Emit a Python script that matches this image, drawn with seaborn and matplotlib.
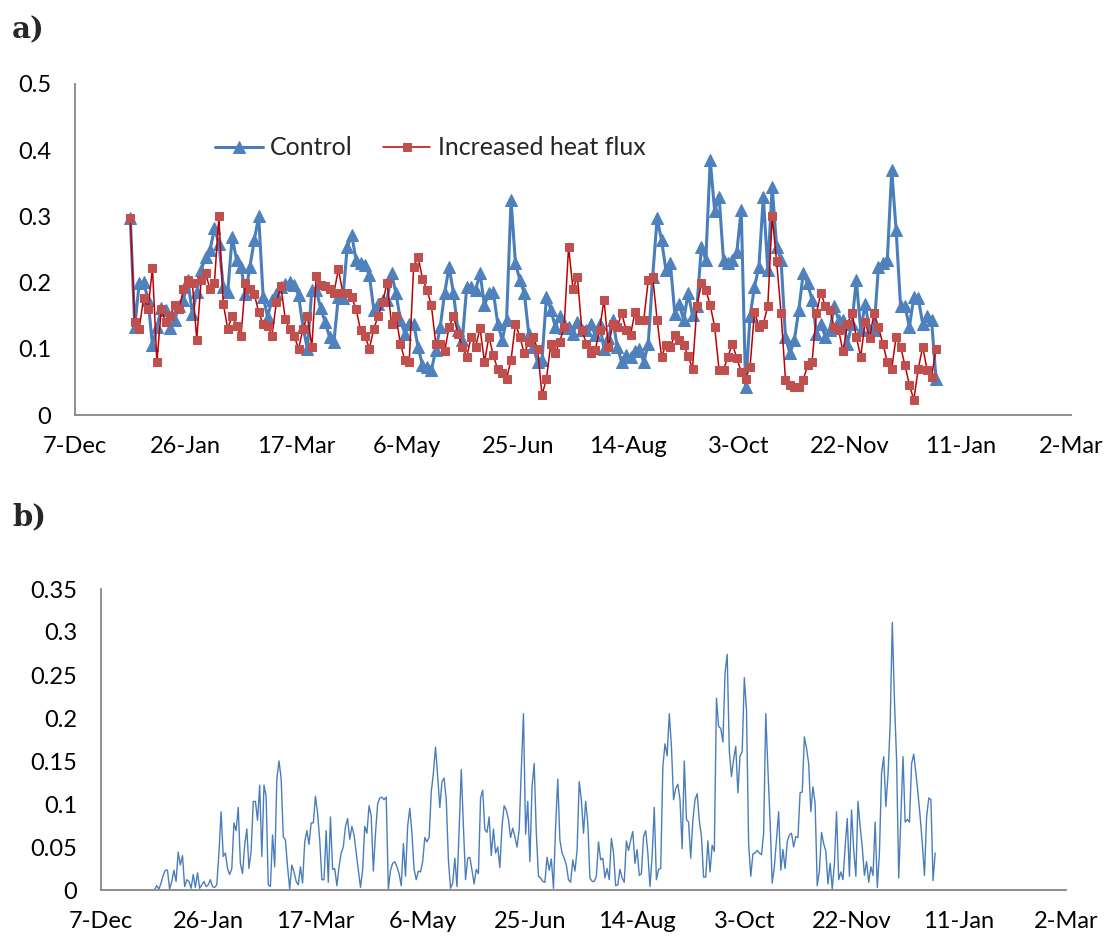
import numpy as np
import pandas as pd
import matplotlib
matplotlib.use("Agg")
import matplotlib.pyplot as plt
import matplotlib.dates as mdates
from matplotlib.ticker import FuncFormatter, MultipleLocator
import seaborn as sns

# ---------------- data ----------------
start_date = "2013-01-01"

# panel a: values every 2 days from 1 Jan 2013
control = [0.297, 0.133, 0.199, 0.201, 0.174, 0.105, 0.133, 0.161, 0.159, 0.131,
           0.144, 0.164, 0.174, 0.204, 0.153, 0.186, 0.219, 0.239, 0.249, 0.282,
           0.259, 0.194, 0.186, 0.269, 0.234, 0.224, 0.183, 0.224, 0.264, 0.300,
           0.179, 0.148, 0.174, 0.183, 0.194, 0.198, 0.201, 0.196, 0.181, 0.133,
           0.100, 0.189, 0.189, 0.161, 0.141, 0.118, 0.111, 0.179, 0.176, 0.254,
           0.272, 0.234, 0.229, 0.227, 0.211, 0.159, 0.168, 0.174, 0.174, 0.214,
           0.184, 0.144, 0.123, 0.138, 0.138, 0.103, 0.075, 0.073, 0.068, 0.098,
           0.133, 0.184, 0.224, 0.184, 0.128, 0.113, 0.194, 0.194, 0.189, 0.214,
           0.166, 0.184, 0.186, 0.138, 0.113, 0.144, 0.325, 0.229, 0.204, 0.184,
           0.123, 0.103, 0.080, 0.083, 0.179, 0.159, 0.133, 0.149, 0.131, 0.133,
           0.123, 0.141, 0.128, 0.128, 0.138, 0.121, 0.138, 0.100, 0.116, 0.144,
           0.103, 0.080, 0.090, 0.088, 0.096, 0.100, 0.080, 0.108, 0.209, 0.297,
           0.264, 0.219, 0.229, 0.153, 0.168, 0.143, 0.184, 0.151, 0.164, 0.254,
           0.234, 0.385, 0.308, 0.330, 0.234, 0.229, 0.234, 0.246, 0.310, 0.042,
           0.149, 0.194, 0.224, 0.330, 0.219, 0.345, 0.254, 0.234, 0.118, 0.093,
           0.113, 0.158, 0.214, 0.199, 0.174, 0.123, 0.138, 0.118, 0.128, 0.164,
           0.144, 0.144, 0.108, 0.138, 0.204, 0.128, 0.168, 0.128, 0.128, 0.224,
           0.229, 0.234, 0.370, 0.279, 0.164, 0.164, 0.133, 0.179, 0.176, 0.138,
           0.149, 0.143, 0.055]

heat_flux = [0.297, 0.140, 0.130, 0.177, 0.160, 0.222, 0.080, 0.160, 0.140, 0.150,
             0.166, 0.160, 0.190, 0.204, 0.200, 0.114, 0.204, 0.214, 0.190, 0.200,
             0.300, 0.168, 0.130, 0.150, 0.135, 0.120, 0.200, 0.190, 0.183, 0.155,
             0.137, 0.135, 0.120, 0.170, 0.195, 0.145, 0.130, 0.120, 0.100, 0.130,
             0.150, 0.103, 0.210, 0.196, 0.195, 0.190, 0.185, 0.220, 0.185, 0.185,
             0.178, 0.160, 0.128, 0.120, 0.100, 0.130, 0.150, 0.170, 0.200, 0.138,
             0.149, 0.108, 0.083, 0.080, 0.224, 0.239, 0.206, 0.189, 0.166, 0.108,
             0.108, 0.096, 0.133, 0.149, 0.123, 0.103, 0.088, 0.118, 0.103, 0.131,
             0.080, 0.118, 0.090, 0.069, 0.063, 0.055, 0.083, 0.138, 0.118, 0.093,
             0.111, 0.118, 0.100, 0.030, 0.055, 0.108, 0.093, 0.111, 0.133, 0.254,
             0.190, 0.209, 0.128, 0.108, 0.093, 0.098, 0.128, 0.174, 0.103, 0.138,
             0.133, 0.154, 0.128, 0.121, 0.156, 0.144, 0.144, 0.204, 0.209, 0.144,
             0.088, 0.106, 0.103, 0.121, 0.113, 0.106, 0.089, 0.070, 0.164, 0.199,
             0.189, 0.166, 0.133, 0.068, 0.068, 0.088, 0.108, 0.086, 0.065, 0.055,
             0.073, 0.156, 0.133, 0.138, 0.164, 0.300, 0.232, 0.154, 0.053, 0.045,
             0.042, 0.043, 0.053, 0.075, 0.080, 0.154, 0.185, 0.164, 0.159, 0.133,
             0.128, 0.096, 0.138, 0.154, 0.118, 0.088, 0.141, 0.116, 0.154, 0.133,
             0.108, 0.080, 0.070, 0.118, 0.103, 0.075, 0.045, 0.023, 0.070, 0.103,
             0.068, 0.058, 0.100]

# panel b: daily values from 1 Jan 2013
difference = [
    0.001, 0.005, 0.001, 0.008, 0.017, 0.023, 0.023, 0.001, 0.010, 0.023,
    0.010, 0.044, 0.029, 0.040, 0.004, 0.012, 0.010, 0.002, 0.018, 0.003,
    0.020, 0.002, 0.006, 0.010, 0.004, 0.006, 0.012, 0.004, 0.003, 0.006,
    0.043, 0.091, 0.039, 0.043, 0.025, 0.018, 0.025, 0.078, 0.069, 0.096,
    0.031, 0.019, 0.052, 0.071, 0.025, 0.045, 0.103, 0.103, 0.081, 0.122,
    0.039, 0.122, 0.109, 0.006, 0.004, 0.064, 0.027, 0.129, 0.150, 0.130,
    0.062, 0.058, 0.027, 0.001, 0.029, 0.021, 0.010, 0.006, 0.027, 0.008,
    0.056, 0.069, 0.053, 0.078, 0.078, 0.109, 0.089, 0.058, 0.012, 0.012,
    0.069, 0.009, 0.085, 0.024, 0.025, 0.005, 0.027, 0.043, 0.050, 0.074,
    0.083, 0.059, 0.074, 0.064, 0.043, 0.023, 0.003, 0.023, 0.074, 0.066,
    0.098, 0.086, 0.022, 0.066, 0.100, 0.107, 0.108, 0.105, 0.108, 0.001,
    0.023, 0.031, 0.033, 0.027, 0.019, 0.005, 0.054, 0.016, 0.074, 0.095,
    0.066, 0.024, 0.012,
    0.022, 0.021, 0.033, 0.061, 0.056, 0.061, 0.114, 0.136, 0.166, 0.132,
    0.096, 0.126, 0.130, 0.105, 0.035, 0.002, 0.008, 0.037, 0.004, 0.070,
    0.140, 0.074, 0.012, 0.037, 0.038, 0.023, 0.007, 0.024, 0.019, 0.107,
    0.116, 0.070, 0.067, 0.085, 0.040, 0.071, 0.043, 0.050, 0.026, 0.074,
    0.098, 0.093, 0.082, 0.061, 0.072, 0.062, 0.050, 0.070, 0.140, 0.205,
    0.065, 0.103, 0.033, 0.120, 0.147, 0.066, 0.016, 0.014, 0.010, 0.009,
    0.038, 0.023, 0.036, 0.002, 0.074, 0.129, 0.058, 0.043, 0.037, 0.029,
    0.012, 0.009, 0.035, 0.022, 0.046, 0.126, 0.105, 0.066, 0.103, 0.078,
    0.014, 0.010, 0.010, 0.016, 0.056, 0.035, 0.037, 0.014, 0.025, 0.012,
    0.060, 0.043, 0.005, 0.006, 0.024, 0.014, 0.009, 0.057, 0.046, 0.058,
    0.068, 0.031, 0.047, 0.017, 0.019, 0.062, 0.069, 0.043, 0.004, 0.039,
    0.096, 0.012, 0.024, 0.025, 0.143, 0.170, 0.156, 0.205, 0.167, 0.105,
    0.118, 0.123,
    0.105, 0.048, 0.150, 0.082, 0.079, 0.037, 0.081, 0.105, 0.112, 0.081,
    0.062, 0.015, 0.015, 0.057, 0.021, 0.052, 0.045, 0.223, 0.190, 0.188,
    0.172, 0.252, 0.274, 0.161, 0.132, 0.152, 0.167, 0.113, 0.156, 0.161,
    0.247, 0.209, 0.054, 0.016, 0.042, 0.043, 0.046, 0.043, 0.041, 0.066,
    0.205, 0.140, 0.081, 0.008, 0.027, 0.059, 0.091, 0.023, 0.047, 0.025,
    0.056, 0.064, 0.066, 0.050, 0.062, 0.061, 0.113, 0.114, 0.178, 0.165,
    0.147, 0.091, 0.120, 0.101, 0.005, 0.022, 0.067, 0.054, 0.045, 0.007,
    0.031, 0.001, 0.031, 0.091, 0.012, 0.021, 0.012, 0.050, 0.083, 0.016,
    0.093, 0.047, 0.016, 0.103, 0.074, 0.050, 0.017, 0.033, 0.009, 0.027,
    0.017, 0.079, 0.003, 0.043, 0.136, 0.155, 0.097, 0.134, 0.192, 0.311,
    0.221, 0.151, 0.014, 0.085, 0.155, 0.079, 0.082, 0.079, 0.147, 0.158,
    0.136, 0.112, 0.085, 0.054, 0.017, 0.085, 0.107, 0.105, 0.011, 0.043]

x_ticks = ["2012-12-07", "2013-01-26", "2013-03-17", "2013-05-06", "2013-06-25",
           "2013-08-14", "2013-10-03", "2013-11-22", "2014-01-11", "2014-03-02"]
series_labels = ["Control", "Increased heat flux"]

# --------------- frames ---------------
dates_a = pd.date_range(start_date, periods=len(control), freq="2D")
dates_b = pd.date_range(start_date, periods=len(difference), freq="D")
df_a = pd.DataFrame({"date": dates_a, "control": control, "heat": heat_flux})
df_b = pd.DataFrame({"date": dates_b, "diff": difference})

# --------------- style ----------------
sns.set_theme(style="white")
plt.rcParams["font.family"] = ["Lato", "DejaVu Sans"]

AX_COL = "#868686"
BLUE_L = "#4A7EBB"
BLUE_M = "#4F81BD"
RED_L = "#C00000"
RED_M = "#C0504D"
FS = 17

fig = plt.figure(figsize=(11.09, 9.38), dpi=100)
ax_a = fig.add_axes([75 / 1109, 1 - 415 / 938, (1071 - 75) / 1109, (415 - 84) / 938])
ax_b = fig.add_axes([101 / 1109, 1 - 890 / 938, (1066 - 101) / 1109, (890 - 589) / 938])

sns.lineplot(data=df_a, x="date", y="control", ax=ax_a, color=BLUE_L, linewidth=2.2,
             marker="^", markersize=8.5, markerfacecolor=BLUE_M, markeredgecolor=BLUE_M,
             label=series_labels[0], zorder=3)
sns.lineplot(data=df_a, x="date", y="heat", ax=ax_a, color=RED_L, linewidth=1.1,
             marker="s", markersize=5.5, markerfacecolor=RED_M, markeredgecolor=RED_M,
             label=series_labels[1], zorder=4)
sns.lineplot(data=df_b, x="date", y="diff", ax=ax_b, color=BLUE_L, linewidth=1.0)

tick_dates = pd.to_datetime(x_ticks)


def date_fmt(v, pos=None):
    d = mdates.num2date(v)
    return f"{d.day}-{d.strftime('%b')}"


for ax, ymax, step in [(ax_a, 0.5, 0.1), (ax_b, 0.35, 0.05)]:
    ax.set_xlim(tick_dates[0], tick_dates[-1])
    ax.set_ylim(0, ymax)
    ax.set_xticks(tick_dates)
    ax.xaxis.set_major_formatter(FuncFormatter(date_fmt))
    ax.yaxis.set_major_locator(MultipleLocator(step))
    ax.yaxis.set_major_formatter(FuncFormatter(lambda v, p: f"{round(v, 2):g}"))
    ax.set_xlabel("")
    ax.set_ylabel("")
    for s in ["top", "right"]:
        ax.spines[s].set_visible(False)
    for s in ["left", "bottom"]:
        ax.spines[s].set_color(AX_COL)
        ax.spines[s].set_linewidth(1.3)
    ax.tick_params(axis="both", which="major", direction="out", length=6, width=1.3,
                   color=AX_COL, labelsize=FS, labelcolor="black")
    ax.tick_params(axis="y", pad=11)
    ax.tick_params(axis="x", pad=9)
    ax.set_facecolor("white")

leg = ax_a.legend(loc="center left", bbox_to_anchor=(0.118, 0.807), ncol=2, frameon=False,
                  fontsize=18, handlelength=1.9, columnspacing=1.2, handletextpad=0.3)

fig.text(12 / 1109, 1 - 30 / 938, "a)", fontsize=21, fontweight="bold",
         family=["DejaVu Serif"], va="center", ha="left")
fig.text(12 / 1109, 1 - 517 / 938, "b)", fontsize=21, fontweight="bold",
         family=["DejaVu Serif"], va="center", ha="left")

fig.savefig("out.png", dpi=100, facecolor="white")
